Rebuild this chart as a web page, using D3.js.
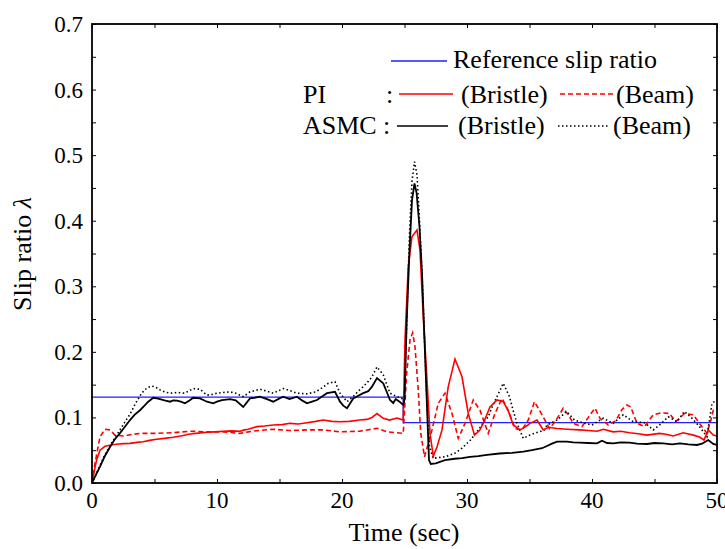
<!DOCTYPE html>
<html><head><meta charset="utf-8">
<script src="https://cdn.jsdelivr.net/npm/d3@7"></script>
<style>body{margin:0;background:#fff}svg{display:block}</style>
</head><body><svg id="c" width="725" height="549" font-family="'Liberation Serif','Times New Roman',Times,serif"></svg>
<script>
const xTicks = [0,10,20,30,40,50];
const yTicks = [0.0,0.1,0.2,0.3,0.4,0.5,0.6,0.7];
const yTickLabels = ["0.0","0.1","0.2","0.3","0.4","0.5","0.6","0.7"];

const reference = [[0,0.131],[24.9,0.131],[24.9,0.092],[50,0.092]];

const asmcBristle = [[0,0],[0.3,0.012],[0.64,0.025],[1.0,0.04],[1.44,0.055],[1.8,0.066],[2.24,0.076],[2.6,0.085],[3.04,0.096],[3.4,0.104],[3.84,0.111],[4.2,0.118],[4.5,0.124],[4.9,0.130],[5.2,0.129],[5.44,0.128],[5.8,0.126],[6.24,0.124],[6.5,0.126],[6.8,0.1255],[7.1,0.124],[7.44,0.1215],[7.8,0.126],[8.1,0.130],[8.64,0.129],[9.2,0.124],[9.7,0.1215],[10.0,0.124],[10.4,0.1265],[11.04,0.128],[11.5,0.126],[12.1,0.116],[12.64,0.129],[13.0,0.130],[13.44,0.1316],[14.0,0.128],[14.5,0.124],[15.0,0.129],[15.3,0.1316],[15.8,0.128],[16.4,0.1316],[16.8,0.126],[17.2,0.1215],[17.6,0.124],[18,0.1266],[18.4,0.132],[18.8,0.137],[19.44,0.139],[19.84,0.124],[20.1,0.118],[20.4,0.114],[20.9,0.129],[21.3,0.133],[21.7,0.137],[22.1,0.14],[22.4,0.147],[22.8,0.16],[23.3,0.152],[23.6,0.138],[23.84,0.1266],[24.1,0.122],[24.3,0.128],[24.6,0.124],[24.9,0.119],[25.0,0.127],[25.17,0.243],[25.4,0.355],[25.6,0.431],[25.8,0.457],[25.97,0.442],[26.2,0.39],[26.4,0.32],[26.6,0.218],[26.8,0.116],[26.96,0.035],[27.1,0.029],[27.5,0.030],[28.24,0.035],[29,0.037],[29.6,0.038],[30.24,0.040],[30.9,0.041],[31.6,0.043],[32.6,0.045],[33.6,0.046],[34.5,0.048],[35.2,0.050],[36,0.053],[36.4,0.0564],[36.8,0.060],[37.2,0.063],[38,0.063],[38.5,0.062],[39,0.0615],[39.7,0.061],[40.4,0.0605],[40.8,0.0646],[41.2,0.061],[41.7,0.0605],[42.3,0.062],[43,0.0615],[43.6,0.060],[44.4,0.0595],[45,0.061],[45.7,0.0605],[46.4,0.059],[47.04,0.0605],[47.7,0.059],[48.4,0.058],[48.8,0.060],[49.3,0.0656],[49.7,0.0595],[50,0.058]];

const asmcBeam = [[0,0],[0.3,0.012],[0.64,0.027],[1.0,0.042],[1.44,0.057],[1.84,0.069],[2.24,0.081],[2.6,0.092],[3.04,0.105],[3.5,0.122],[3.97,0.137],[4.4,0.145],[4.77,0.148],[5.1,0.146],[5.44,0.142],[5.8,0.139],[6.24,0.137],[6.8,0.138],[7.4,0.137],[7.8,0.141],[8.1,0.144],[8.64,0.143],[9.2,0.134],[9.6,0.135],[10,0.137],[10.5,0.138],[11.04,0.139],[11.5,0.137],[12.1,0.1316],[12.64,0.139],[13.44,0.143],[14,0.140],[14.5,0.137],[15.3,0.144],[15.8,0.141],[16.4,0.137],[17.2,0.136],[17.9,0.139],[18.4,0.145],[18.9,0.152],[19.44,0.1545],[19.84,0.137],[20.4,0.124],[20.9,0.132],[21.3,0.14],[21.7,0.147],[22.1,0.155],[22.4,0.162],[22.8,0.177],[23.3,0.165],[23.84,0.137],[24.4,0.1316],[24.9,0.128],[25.0,0.13],[25.2,0.26],[25.4,0.38],[25.6,0.46],[25.8,0.49],[26.0,0.47],[26.2,0.40],[26.4,0.32],[26.6,0.22],[26.8,0.12],[27.0,0.055],[27.3,0.0376],[28.24,0.040],[29.0,0.045],[29.6,0.053],[30.3,0.066],[30.9,0.081],[31.3,0.092],[31.7,0.101],[32.1,0.12],[32.4,0.1316],[32.9,0.152],[33.4,0.1316],[33.7,0.11],[34,0.091],[34.5,0.068],[34.9,0.072],[35.4,0.0757],[36.2,0.081],[36.4,0.0885],[37.2,0.096],[37.97,0.109],[38.6,0.096],[39.2,0.092],[40,0.0885],[40.9,0.0987],[41.7,0.091],[42.5,0.104],[43.3,0.0935],[44.2,0.092],[44.9,0.081],[45.4,0.0885],[46.1,0.101],[46.8,0.0935],[47.4,0.109],[48,0.0987],[48.6,0.086],[49.2,0.0706],[49.6,0.1215],[50,0.127]];

const piBristle = [[0,0],[0.2,0.02],[0.37,0.035],[0.64,0.05],[1.04,0.056],[1.5,0.058],[1.97,0.059],[2.5,0.060],[3.04,0.0605],[3.6,0.062],[4.1,0.063],[4.6,0.065],[5.17,0.0666],[5.8,0.068],[6.5,0.0697],[7.2,0.072],[7.84,0.0747],[8.5,0.076],[9.17,0.0773],[9.8,0.078],[10.5,0.079],[11.2,0.0795],[11.84,0.079],[12.2,0.081],[12.5,0.082],[13.2,0.086],[13.8,0.087],[14.5,0.0885],[15.2,0.089],[15.84,0.091],[16.5,0.090],[17.2,0.092],[17.9,0.094],[18.5,0.096],[19.2,0.094],[19.84,0.0935],[20.6,0.094],[21.4,0.096],[22.0,0.097],[22.4,0.1],[22.8,0.106],[23.3,0.0987],[23.8,0.096],[24.4,0.099],[24.9,0.096],[25.04,0.218],[25.3,0.33],[25.6,0.376],[26.0,0.386],[26.24,0.355],[26.5,0.254],[26.8,0.157],[27.04,0.0757],[27.3,0.041],[27.6,0.055],[28.0,0.081],[28.5,0.147],[29.04,0.189],[29.6,0.162],[30.1,0.106],[30.6,0.073],[31.0,0.08],[31.3,0.091],[31.84,0.116],[32.4,0.1266],[32.9,0.124],[33.3,0.11],[33.7,0.0885],[34.24,0.081],[34.7,0.086],[35.04,0.091],[35.6,0.096],[36.1,0.081],[36.5,0.085],[37.2,0.083],[38,0.082],[39,0.081],[39.7,0.080],[40.4,0.079],[40.9,0.082],[41.7,0.078],[42.3,0.079],[43,0.0767],[43.7,0.075],[44.4,0.073],[45.4,0.0757],[46,0.074],[46.5,0.0717],[47.3,0.0767],[48.1,0.073],[48.6,0.070],[48.96,0.0656],[49.3,0.081],[49.7,0.073],[50,0.0717]];

const piBeam = [[0,0],[0.24,0.030],[0.64,0.0706],[1.04,0.082],[1.44,0.081],[1.84,0.073],[2.5,0.0716],[3.2,0.074],[3.84,0.0757],[5,0.0757],[6.5,0.0767],[7.84,0.079],[9.2,0.078],[10.5,0.078],[11.84,0.0757],[12.5,0.078],[13.2,0.0798],[14.5,0.082],[15.8,0.080],[17.2,0.081],[18.5,0.081],[19.84,0.078],[21.4,0.079],[22.8,0.0834],[23.6,0.078],[24.9,0.0757],[25.17,0.167],[25.44,0.218],[25.65,0.229],[25.84,0.208],[26.1,0.142],[26.3,0.0757],[26.6,0.040],[26.9,0.06],[27.2,0.081],[27.7,0.1215],[28.24,0.137],[28.8,0.106],[29.3,0.068],[29.84,0.091],[30.5,0.1266],[31.04,0.111],[31.7,0.0757],[32.24,0.106],[32.8,0.129],[33.3,0.111],[33.84,0.083],[34.4,0.081],[34.9,0.096],[35.4,0.124],[36,0.104],[36.6,0.083],[37.1,0.095],[37.7,0.114],[38.1,0.104],[38.5,0.091],[39.2,0.086],[39.7,0.100],[40.24,0.114],[40.64,0.0987],[41.3,0.0885],[41.9,0.095],[42.4,0.112],[42.8,0.119],[43.1,0.116],[43.6,0.091],[44.2,0.086],[44.9,0.104],[45.5,0.107],[46.2,0.106],[46.7,0.0935],[47.4,0.106],[48.1,0.104],[48.6,0.091],[49.2,0.0757],[49.5,0.095],[49.7,0.111],[50,0.114]];

const svg = d3.select("#c");
const L = 92, R = 717, T = 24, B = 483;
const x = d3.scaleLinear().domain([0,50]).range([L,R]);
const y = d3.scaleLinear().domain([0,0.7]).range([B,T]);

svg.append("clipPath").attr("id","clp").append("rect").attr("x",L).attr("y",T).attr("width",R-L).attr("height",B-T);
const line = d3.line().x(d=>x(d[0])).y(d=>y(d[1]));
const lines = svg.append("g").attr("clip-path","url(#clp)");

lines.append("path").attr("d", line(reference)).attr("fill","none").attr("stroke","#1f1fff").attr("stroke-width",1.4);
lines.append("path").attr("d", line(piBeam)).attr("fill","none").attr("stroke","#ff0000").attr("stroke-width",1.6).attr("stroke-dasharray","5,3");
lines.append("path").attr("d", line(asmcBeam)).attr("fill","none").attr("stroke","#000").attr("stroke-width",1.6).attr("stroke-dasharray","1.5,2.5");
lines.append("path").attr("d", line(piBristle)).attr("fill","none").attr("stroke","#ff0000").attr("stroke-width",1.6);
lines.append("path").attr("d", line(asmcBristle)).attr("fill","none").attr("stroke","#000").attr("stroke-width",1.8);

// axes (inward ticks on all four sides)
const minorX = d3.range(0,50.01,5);
const minorY = d3.range(0,0.701,0.05);
const ax = svg.append("g");
ax.append("g").attr("transform",`translate(0,${B})`).call(d3.axisBottom(x).tickValues(minorX).tickSize(-4).tickFormat(""));
ax.append("g").attr("transform",`translate(0,${T})`).call(d3.axisTop(x).tickValues(minorX).tickSize(-4).tickFormat(""));
ax.append("g").attr("transform",`translate(${L},0)`).call(d3.axisLeft(y).tickValues(minorY).tickSize(-4).tickFormat(""));
ax.append("g").attr("transform",`translate(${R},0)`).call(d3.axisRight(y).tickValues(minorY).tickSize(-4).tickFormat(""));
ax.selectAll(".domain").remove();
ax.selectAll(".tick line").attr("stroke","#000").attr("stroke-width",1);

svg.append("rect").attr("x",L).attr("y",T).attr("width",R-L).attr("height",B-T).attr("fill","none").attr("stroke","#000").attr("stroke-width",1.8);

svg.append("g").selectAll("text").data(xTicks).join("text")
  .attr("x",d=>x(d)).attr("y",508).attr("text-anchor","middle").attr("font-size",23).text(d=>d);
svg.append("g").selectAll("text").data(yTicks).join("text")
  .attr("x",83).attr("y",d=>y(d)+8).attr("text-anchor","end").attr("font-size",23).text((d,i)=>yTickLabels[i]);

svg.append("text").attr("x",404).attr("y",541).attr("text-anchor","middle").attr("font-size",26).text("Time (sec)");
svg.append("text").attr("transform","translate(31,254) rotate(-90)").attr("text-anchor","middle").attr("font-size",26)
  .text("Slip ratio ").append("tspan").attr("font-style","italic").text("λ");

// legend
const lg = svg.append("g").attr("font-size",26);
lg.append("line").attr("x1",391).attr("x2",447).attr("y1",61).attr("y2",61).attr("stroke","#1f1fff").attr("stroke-width",1.4);
lg.append("text").attr("x",453).attr("y",68).attr("textLength",204).text("Reference slip ratio");
lg.append("text").attr("x",303).attr("y",103).text("PI");
lg.append("text").attr("x",386).attr("y",103).text(":");
lg.append("line").attr("x1",399).attr("x2",453).attr("y1",94).attr("y2",94).attr("stroke","#ff0000").attr("stroke-width",1.4);
lg.append("text").attr("x",461).attr("y",103).text("(Bristle)");
lg.append("line").attr("x1",560).attr("x2",613).attr("y1",94).attr("y2",94).attr("stroke","#ff0000").attr("stroke-width",1.4).attr("stroke-dasharray","5,3");
lg.append("text").attr("x",616).attr("y",103).text("(Beam)");
lg.append("text").attr("x",303).attr("y",134).text("ASMC");
lg.append("text").attr("x",383).attr("y",134).text(":");
lg.append("line").attr("x1",397).attr("x2",448).attr("y1",126).attr("y2",126).attr("stroke","#000").attr("stroke-width",1.6);
lg.append("text").attr("x",458).attr("y",134).text("(Bristle)");
lg.append("line").attr("x1",558).attr("x2",608).attr("y1",126).attr("y2",126).attr("stroke","#000").attr("stroke-width",1.4).attr("stroke-dasharray","1.5,2.5");
lg.append("text").attr("x",613).attr("y",134).text("(Beam)");
</script></body></html>
